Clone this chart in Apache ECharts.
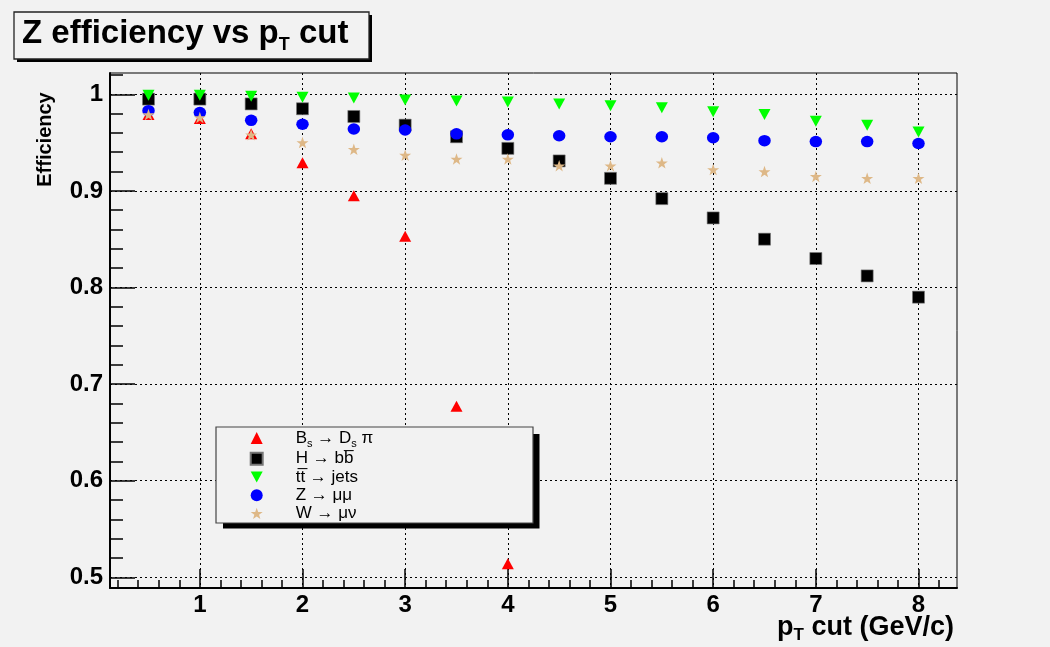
<!DOCTYPE html>
<html>
<head>
<meta charset="utf-8">
<script src="https://cdn.jsdelivr.net/npm/echarts@6/dist/echarts.min.js"></script>
<style>
  html, body { margin: 0; padding: 0; background: #f2f2f2; }
  #chart { width: 1050px; height: 647px; }
</style>
</head>
<body>
<div id="chart"></div>
<script>
// pT cut values (GeV/c)
const ptCutsBs = [0.5, 1, 1.5, 2, 2.5, 3, 3.5, 4];
const ptCuts = [0.5, 1, 1.5, 2, 2.5, 3, 3.5, 4, 4.5, 5, 5.5, 6, 6.5, 7, 7.5, 8];

// efficiency per channel
const effBsDsPi = [0.979, 0.975, 0.959, 0.929, 0.895, 0.853, 0.677, 0.514];
const effHbb    = [0.995, 0.995, 0.990, 0.985, 0.977, 0.968, 0.956, 0.944,
                   0.931, 0.913, 0.892, 0.872, 0.850, 0.830, 0.812, 0.790];
const effTtJets = [0.999, 0.999, 0.998, 0.997, 0.996, 0.994, 0.993, 0.992,
                   0.990, 0.988, 0.986, 0.982, 0.979, 0.972, 0.968, 0.961];
const effZmumu  = [0.983, 0.981, 0.973, 0.969, 0.964, 0.963, 0.959, 0.958,
                   0.957, 0.956, 0.956, 0.955, 0.952, 0.951, 0.951, 0.949];
const effWmunu  = [0.979, 0.976, 0.958, 0.950, 0.943, 0.937, 0.933, 0.933,
                   0.926, 0.926, 0.929, 0.922, 0.920, 0.915, 0.913, 0.913];

// axis ticks
const xMajorTicks = [1, 2, 3, 4, 5, 6, 7, 8];
const xMinorTicks = [0.2, 0.4, 0.6, 0.8, 1.2, 1.4, 1.6, 1.8, 2.2, 2.4, 2.6, 2.8,
                     3.2, 3.4, 3.6, 3.8, 4.2, 4.4, 4.6, 4.8, 5.2, 5.4, 5.6, 5.8,
                     6.2, 6.4, 6.6, 6.8, 7.2, 7.4, 7.6, 7.8, 8.2];
const yMajorTicks = [0.5, 0.6, 0.7, 0.8, 0.9, 1.0];
const yMinorTicks = [0.52, 0.54, 0.56, 0.58, 0.62, 0.64, 0.66, 0.68,
                     0.72, 0.74, 0.76, 0.78, 0.82, 0.84, 0.86, 0.88,
                     0.92, 0.94, 0.96, 0.98, 1.02];

const seriesNames = ['Bs → Ds π', 'H → bb', 'tt → jets', 'Z → μμ', 'W → μν'];

const FONT = '"Liberation Sans", Helvetica, Arial, sans-serif';
const STAR = 'path://M50,0L61.8,35.1L98.1,35.1L68.9,56.8L79.4,91L50,70L20.6,91L31.1,56.8L1.9,35.1L38.2,35.1Z';
const TRI_DOWN = 'path://M0,0L12,0L6,11Z';

const pairs = (xs, ys) => xs.map((x, i) => [x, ys[i]]);

// legend labels: subscripts sit at the bottom of a tall line box
const LEG_LH = 22;
const legendRich = {
  sp: { width: 28, fontSize: 17, lineHeight: LEG_LH },
  n:  { fontFamily: FONT, fontSize: 17, lineHeight: LEG_LH, color: '#000' },
  s:  { fontFamily: FONT, fontSize: 11, lineHeight: 11, color: '#000', verticalAlign: 'bottom' }
};
const legendText = {
  'Bs → Ds π': '{sp| }{n|B}{s|s}{n| → D}{s|s}{n| π}',
  'H → bb':    '{sp| }{n|H → bb\u0305}',
  'tt → jets': '{sp| }{n|tt\u0305 → jets}',
  'Z → μμ':    '{sp| }{n|Z → μμ}',
  'W → μν':    '{sp| }{n|W → μν}'
};

const chart = echarts.init(document.getElementById('chart'), null, { renderer: 'canvas' });

const gridLine = { color: '#000', width: 1, type: [2, 3] };

chart.setOption({
  animation: false,
  backgroundColor: '#f2f2f2',
  title: {
    text: '{a|Z efficiency vs p}{t|T}{a| cut}',
    left: 22, top: 14, padding: 0, z: 10,
    textStyle: {
      rich: {
        a: { fontFamily: FONT, fontWeight: 'bold', fontSize: 33, lineHeight: 40, color: '#000' },
        t: { fontFamily: FONT, fontWeight: 'bold', fontSize: 18, lineHeight: 18, color: '#000',
             verticalAlign: 'bottom' }
      }
    }
  },
  grid: {
    left: 110, top: 73, width: 847, height: 515,
    show: true, borderColor: '#000', borderWidth: 1, backgroundColor: 'transparent',
    containLabel: false, outerBoundsMode: 'none'
  },
  xAxis: [
    {
      type: 'value', min: 0.125, max: 8.375, splitNumber: 8,
      axisLine: { show: true, onZero: false, lineStyle: { color: '#000', width: 2 } },
      axisTick: { show: true, inside: true, length: 19, customValues: xMajorTicks,
                  lineStyle: { color: '#000', width: 1.5 } },
      axisLabel: { show: true, customValues: xMajorTicks, margin: 5, color: '#000',
                   fontFamily: FONT, fontWeight: 'bold', fontSize: 24 },
      splitLine: { show: true, lineStyle: gridLine }
    },
    {
      type: 'value', min: 0.125, max: 8.375, position: 'bottom',
      axisLine: { show: false, onZero: false },
      axisTick: { show: true, inside: true, length: 8, customValues: xMinorTicks,
                  lineStyle: { color: '#000', width: 1.5 } },
      axisLabel: { show: false },
      splitLine: { show: false }
    }
  ],
  yAxis: [
    {
      type: 'value', min: 0.489, max: 1.022,
      axisLine: { show: true, onZero: false, lineStyle: { color: '#000', width: 2 } },
      axisTick: { show: true, inside: true, length: 25, customValues: yMajorTicks,
                  lineStyle: { color: '#000', width: 1.5 } },
      axisLabel: { show: true, customValues: yMajorTicks, margin: 7, color: '#000',
                   fontFamily: FONT, fontWeight: 'bold', fontSize: 24 },
      splitLine: { show: true, lineStyle: gridLine }
    },
    {
      type: 'value', min: 0.489, max: 1.022, position: 'left',
      axisLine: { show: false, onZero: false },
      axisTick: { show: true, inside: true, length: 13, customValues: yMinorTicks,
                  lineStyle: { color: '#000', width: 1.5 } },
      axisLabel: { show: false },
      splitLine: { show: false }
    }
  ],
  legend: {
    orient: 'vertical',
    left: 249.7, top: 429.6, padding: 0,
    itemWidth: 12, itemHeight: 12, itemGap: 1.2,
    selectedMode: false,
    data: [
      { name: seriesNames[0], icon: 'triangle' },
      { name: seriesNames[1], icon: 'rect' },
      { name: seriesNames[2], icon: TRI_DOWN },
      { name: seriesNames[3], icon: 'circle' },
      { name: seriesNames[4], icon: STAR }
    ],
    formatter: name => legendText[name],
    textStyle: { fontFamily: FONT, fontSize: 17, color: '#000', rich: legendRich }
  },
  graphic: [
    // title box with shadow
    { type: 'rect', z: 4, shape: { x: 17, y: 15, width: 355, height: 47 }, style: { fill: '#000' } },
    { type: 'rect', z: 5, shape: { x: 14, y: 12, width: 355, height: 47 },
      style: { fill: '#f2f2f2', stroke: '#222', lineWidth: 1.3 } },
    // legend box with shadow
    { type: 'rect', z: 3, shape: { x: 223, y: 434, width: 316.5, height: 94.5 }, style: { fill: '#000' } },
    { type: 'rect', z: 3, shape: { x: 216, y: 427, width: 317, height: 96 },
      style: { fill: '#f2f2f2', stroke: '#444', lineWidth: 1.2 } },
    // axis titles
    { type: 'text', z: 10, x: 954, y: 611,
      style: {
        text: '{a|p}{t|T}{a| cut (GeV/c)}', align: 'right', verticalAlign: 'top',
        rich: {
          a: { fontFamily: FONT, fontWeight: 'bold', fontSize: 27, lineHeight: 33, fill: '#000' },
          t: { fontFamily: FONT, fontWeight: 'bold', fontSize: 17, lineHeight: 17, fill: '#000',
               verticalAlign: 'bottom' }
        }
      } },
    { type: 'text', z: 10, x: 45, y: 139.5, rotation: Math.PI / 2,
      style: { text: 'Efficiency', fill: '#000', font: 'bold 20px ' + FONT,
               align: 'center', verticalAlign: 'middle' } }
  ],
  series: [
    { name: seriesNames[0], type: 'scatter', data: pairs(ptCutsBs, effBsDsPi), symbol: 'triangle',
      symbolSize: [12, 11], itemStyle: { color: '#ff0000', opacity: 1 }, silent: true, z: 2 },
    { name: seriesNames[1], type: 'scatter', data: pairs(ptCuts, effHbb), symbol: 'rect',
      symbolSize: [12, 12], itemStyle: { color: '#000000', opacity: 1, borderColor: '#777', borderWidth: 0.6 },
      silent: true, z: 2 },
    { name: seriesNames[2], type: 'scatter', data: pairs(ptCuts, effTtJets), symbol: TRI_DOWN,
      symbolSize: [12, 11], itemStyle: { color: '#00ff00', opacity: 1 }, silent: true, z: 2 },
    { name: seriesNames[3], type: 'scatter', data: pairs(ptCuts, effZmumu), symbol: 'circle',
      symbolSize: [12.5, 11.5], itemStyle: { color: '#0000ff', opacity: 1 }, silent: true, z: 2 },
    { name: seriesNames[4], type: 'scatter', data: pairs(ptCuts, effWmunu), symbol: STAR,
      symbolSize: [12, 11.5], itemStyle: { color: '#deb887', opacity: 1 }, silent: true, z: 2 }
  ]
});
</script>
</body>
</html>
